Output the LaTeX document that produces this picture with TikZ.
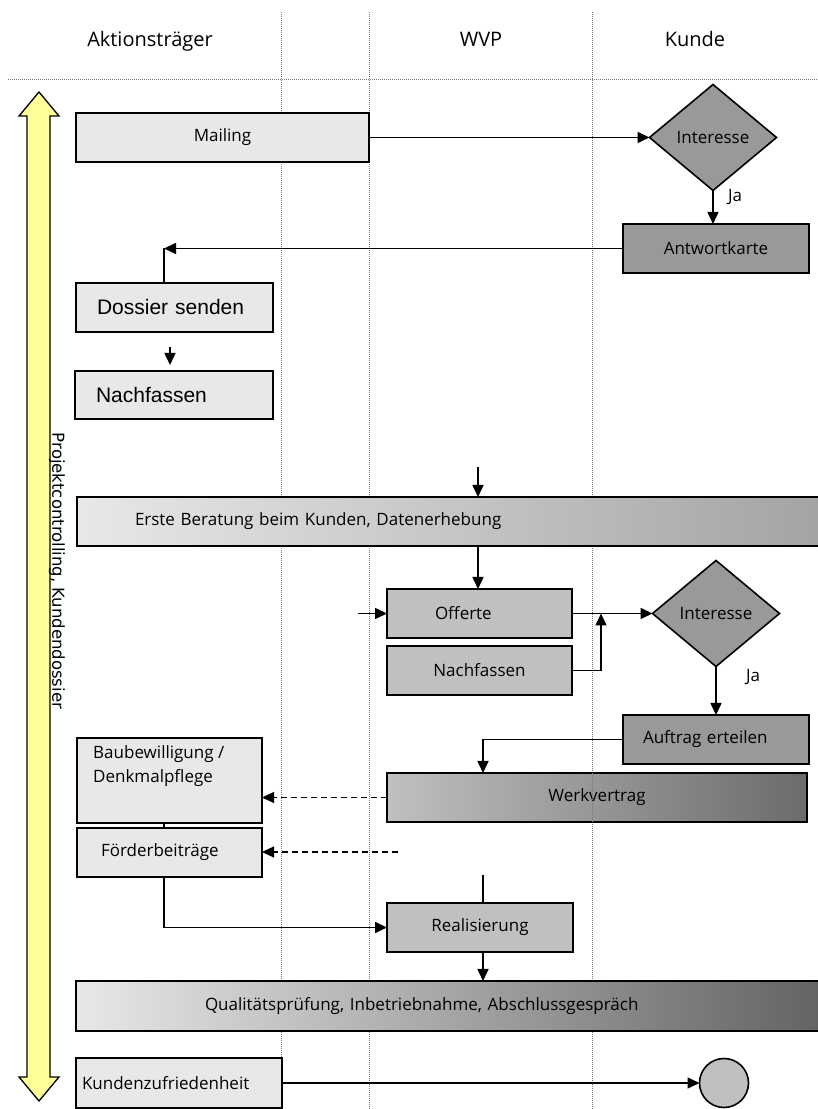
\documentclass[tikz,border=0pt]{standalone}
\usepackage{fontspec}
\setmainfont{Open Sans}
\newfontfamily\arialFont{Liberation Sans}
\newfontfamily\verdFont{DejaVu Sans}
\usetikzlibrary{arrows.meta,shapes.geometric}

\begin{document}
\begin{tikzpicture}[x=1pt,y=1pt,
  box/.style={draw=black,line width=1.6pt,inner sep=0pt,outer sep=0pt,font=\fontsize{17}{20}\selectfont},
  lightBox/.style={box,fill=boxLight},
  midBox/.style={box,fill=boxMid},
  darkBox/.style={box,fill=boxDark},
  leftText/.style={align=left,inner xsep=#1},
  decision/.style={box,diamond,fill=boxDark,minimum width=127pt,minimum height=106pt},
  flow/.style={line width=1.6pt,-{Triangle[length=12pt,width=11pt]}},
  plain/.style={line width=1.6pt},
  hint/.style={line width=1.1pt,dash pattern=on 6pt off 4pt,-{Triangle[length=12pt,width=11pt]}},
  lane/.style={draw=laneGray,line width=0.8pt,dash pattern=on 1pt off 1pt},
  head/.style={font=\fontsize{20}{24}\selectfont,anchor=base}]
\definecolor{boxLight}{RGB}{232,232,232}
\definecolor{boxMid}{RGB}{192,192,192}
\definecolor{boxDark}{RGB}{153,153,153}
\definecolor{arrowYellow}{RGB}{255,255,153}
\definecolor{laneGray}{RGB}{120,120,120}
\path[use as bounding box,fill=white] (0,0) rectangle (818,1109);

\node[head] (akteur) at (150,1062) {Aktionsträger};
\node[head] (wvp) at (481,1062) {WVP};
\node[head] (kunde) at (695,1062) {Kunde};

\path[lane] (8,1030) -- (818,1030);
\path[lane] (281,1097) -- (281,0);
\path[lane] (369,1097) -- (369,0);
\path[lane] (592,1097) -- (592,0);

\path[draw=black,line width=1.3pt,line join=miter,fill=arrowYellow] (39,1017) -- (59,993) -- (50,993) -- (50,32) -- (59,32) --
	(39,8) -- (19,32) -- (27,32) -- (27,993) -- (19,993) -- cycle;
\node[rotate=-90,inner sep=0pt,font=\verdFont\fontsize{16.5}{20}\selectfont] (projekt) at (57,538) {Projektcontrolling, Kundendossier};

\node[lightBox,minimum width=293pt,minimum height=49pt] (mailing) at (222.5,971.5) {Mailing};
\node[decision] (interesse1) at (713,971.5) {Interesse};
\node[font=\fontsize{17}{20}\selectfont] (ja1) at (735,912) {Ja};
\node[darkBox,minimum width=186pt,minimum height=49pt] (antwort) at (716,860.5) {Antwortkarte};
\coordinate (rueck) at (164,860.5);
\node[lightBox,leftText=21pt,text width=155pt,minimum height=49pt,font=\arialFont\fontsize{21}{24}\selectfont] (dossier) at (174.5,801.5) {Dossier senden};
\node[lightBox,leftText=21pt,text width=156pt,minimum height=48pt,font=\arialFont\fontsize{21}{24}\selectfont] (nachfassen1) at (174,714) {Nachfassen};

\draw[flow] (mailing.east) -- (interesse1.west);
\draw[flow] (interesse1.south) -- (interesse1.south |- antwort.north);
\draw[flow] (antwort.west) -- (rueck);
\draw[plain] (dossier.north -| rueck) -- (rueck);
\draw[flow] ([xshift=-4.5pt,yshift=-15pt]dossier.south) -- ([xshift=-4pt,yshift=6pt]nachfassen1.north);

\node[box,leftText=58pt,text width=628pt,minimum height=49pt,left color=boxLight,right color=boxLight!50!boxDark!85!black] (beratung) at (449,587.5) {Erste Beratung beim Kunden, Datenerhebung};
\coordinate (ein1) at (478,642);
\node[midBox,leftText=48pt,text width=89pt,minimum height=49pt] (offerte) at (479.5,495.5) {Offerte};
\node[midBox,minimum width=185pt,minimum height=49pt] (nachfassen2) at (479.5,438.5) {Nachfassen};
\node[decision] (interesse2) at (716,495.5) {Interesse};
\node[font=\fontsize{17}{20}\selectfont] (ja2) at (753,432) {Ja};
\coordinate (knick) at (601,495.5);
\node[darkBox,leftText=20pt,text width=146pt,minimum height=49pt] (auftrag) at (716,369.5) {Auftrag erteilen};

\draw[flow] (ein1) -- (ein1 |- beratung.north);
\draw[flow] (ein1 |- beratung.south) -- (ein1 |- offerte.north);
\draw[flow] ([xshift=-29pt]offerte.west) -- (offerte.west);
\draw[flow] (offerte.east) -- (interesse2.west);
\draw[flow] (nachfassen2.east) -| (knick);
\draw[flow] (interesse2.south) -- (interesse2.south |- auftrag.north);

\coordinate (achse) at (483,0);
\coordinate (links) at (164,0);
\node[box,minimum width=420pt,minimum height=49pt,left color=boxMid,right color=boxDark!70!black] (werk) at (597,311.5) {Werkvertrag};
\path[lane] (592,336) -- (592,287);
\node[lightBox,minimum width=185pt,minimum height=85pt] (bau) at (169.5,328.5) {};
\node[anchor=north west,align=left,inner sep=0pt,font=\fontsize{17}{24}\selectfont] (bauText) at (93,364) {Baubewilligung /\\Denkmalpflege};
\node[lightBox,leftText=24pt,text width=137pt,minimum height=49pt] (foerder) at (169.5,256.5) {Förderbeiträge};
\coordinate (frei) at (398,257);
\node[midBox,minimum width=186pt,minimum height=49pt] (real) at (480,181.5) {Realisierung};
\coordinate (oben) at (483,234);

\draw[flow] (auftrag.west) -| (werk.north -| achse);
\draw[hint] (werk.west) -- (bau.east |- werk.west);
\draw[plain] (bau.south -| links) -- (foerder.north -| links);
\draw[hint] (frei) -- (foerder.east |- frei);
\draw[flow] (foerder.south -| links) |- (real.west);
\draw[plain] (oben) -- (oben |- real.north);

\node[box,leftText=129pt,text width=487pt,minimum height=50pt,left color=boxLight,right color=boxDark!65!black] (qualitaet) at (448.5,103) {Qualitätsprüfung, Inbetriebnahme, Abschlussgespräch};
\node[lightBox,leftText=6pt,text width=194pt,minimum height=50pt] (zufrieden) at (179,26) {Kundenzufriedenheit};
\node[box,circle,fill=boxMid,minimum size=49pt] (ende) at (724,26) {};

\draw[flow] (real.south -| achse) -- (qualitaet.north -| achse);
\draw[flow] (zufrieden.east) -- (ende.west);
\end{tikzpicture}
\end{document}
